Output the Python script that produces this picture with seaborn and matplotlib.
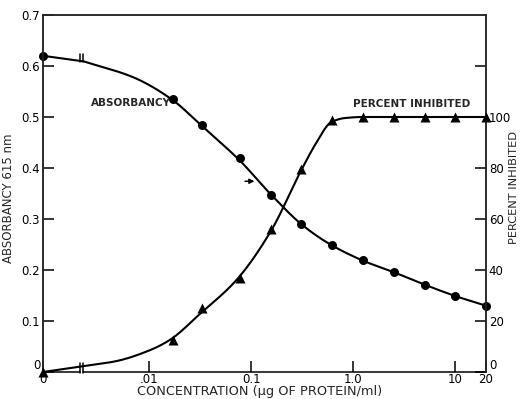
import numpy as np
import pandas as pd
import matplotlib
matplotlib.use("Agg")
import matplotlib.pyplot as plt
import seaborn as sns

# Measured points: protein concentration (ug/ml), absorbancy at 615 nm, percent inhibited
conc = [0, 0.017, 0.033, 0.078, 0.156, 0.31, 0.62, 1.25, 2.5, 5, 10, 20]
absorbancy = [0.62, 0.535, 0.485, 0.42, 0.347, 0.29, 0.25, 0.22, 0.197, 0.17, 0.15, 0.13]
inhibited = [0, 12.5, 25, 37, 56, 79.5, 99, 100, 100, 100, 100, 100]

# Hand-drawn fitted curves (knots)
abs_curve_conc = [0, 0.0023, 0.007, 0.0166, 0.032, 0.079, 0.16, 0.323, 0.611, 1.26, 2.55, 5.05, 10, 20]
abs_curve = [0.62, 0.609, 0.578, 0.535, 0.485, 0.413, 0.346, 0.287, 0.249, 0.218, 0.195, 0.171, 0.149, 0.13]
inh_curve_conc = [0, 0.0023, 0.0047, 0.01, 0.0159, 0.032, 0.0724, 0.156, 0.309, 0.43, 0.611, 0.832, 1.24, 20]
inh_curve = [0, 2.3, 4.2, 8.4, 12.5, 23, 36.2, 55.2, 79, 89.5, 98, 99.6, 100, 100]

# Tick labels
x_ticks = [0, 0.01, 0.1, 1, 10, 20]
x_ticklabels = ["0", ".01", "0.1", "1.0", "10", "20"]
y_ticks = [0, 0.1, 0.2, 0.3, 0.4, 0.5, 0.6, 0.7]
y_ticklabels = ["0", "0.1", "0.2", "0.3", "0.4", "0.5", "0.6", "0.7"]
y2_ticks = [0, 20, 40, 60, 80, 100, 120]
y2_ticklabels = ["0", "20", "40", "60", "80", "100", ""]

# Broken concentration axis: linear stretch from 0 up to XB, log10 above it
U0 = -3.038
UB = -2.646
XB = 10 ** UB


def fwd(x):
    x = np.asarray(x, dtype=float)
    lg = np.log10(np.clip(x, XB, None))
    lin = U0 + (x / XB) * (UB - U0)
    return np.where(x > XB, lg, lin)


def inv(u):
    u = np.asarray(u, dtype=float)
    lin = (u - U0) / (UB - U0) * XB
    return np.where(u > UB, 10 ** np.clip(u, UB, 10), lin)


def pchip(xk, yk, xs):
    """Monotone cubic (Fritsch-Carlson) through the knots."""
    xk = np.asarray(xk, float)
    yk = np.asarray(yk, float)
    h = np.diff(xk)
    d = np.diff(yk) / h
    m = np.zeros_like(yk)
    m[0], m[-1] = d[0], d[-1]
    for i in range(1, len(xk) - 1):
        if d[i - 1] * d[i] > 0:
            w1 = 2 * h[i] + h[i - 1]
            w2 = h[i] + 2 * h[i - 1]
            m[i] = (w1 + w2) / (w1 / d[i - 1] + w2 / d[i])
    idx = np.clip(np.searchsorted(xk, xs) - 1, 0, len(xk) - 2)
    t = (xs - xk[idx]) / h[idx]
    h00 = 2 * t**3 - 3 * t**2 + 1
    h10 = t**3 - 2 * t**2 + t
    h01 = -2 * t**3 + 3 * t**2
    h11 = t**3 - t**2
    return h00 * yk[idx] + h10 * h[idx] * m[idx] + h01 * yk[idx + 1] + h11 * h[idx] * m[idx + 1]


def smooth_curve(cx, cy):
    # straight piece from zero to the break, smooth curve on the log part
    lx = np.log10(np.asarray(cx[1:], float))
    us = np.linspace(lx[0], lx[-1], 400)
    ys = pchip(lx, cy[1:], us)
    return pd.DataFrame({"x": np.concatenate([[cx[0]], 10 ** us]),
                         "y": np.concatenate([[cy[0]], ys])})


sns.set_style("ticks")
plt.rcParams["font.family"] = ["DejaVu Sans"]
plt.rcParams["axes.linewidth"] = 1.1

W, H = 521, 399
fig = plt.figure(figsize=(W / 100, H / 100), dpi=100)
ax = fig.add_axes([43 / W, 1 - 372 / H, 443 / W, 357 / H])
ax.set_xscale("function", functions=(fwd, inv))
ax2 = ax.twinx()

abs_df = pd.DataFrame({"conc": conc, "val": absorbancy})
inh_df = pd.DataFrame({"conc": conc, "val": inhibited})
abs_line = smooth_curve(abs_curve_conc, abs_curve)
inh_line = smooth_curve(inh_curve_conc, inh_curve)

sns.lineplot(data=abs_line, x="x", y="y", ax=ax, sort=False, estimator=None,
             color="black", linewidth=1.5)
sns.scatterplot(data=abs_df, x="conc", y="val", ax=ax, marker="o", s=42,
                color="black", edgecolor="black", linewidth=0, clip_on=False, zorder=5)
sns.lineplot(data=inh_line, x="x", y="y", ax=ax2, sort=False, estimator=None,
             color="black", linewidth=1.5)
sns.scatterplot(data=inh_df, x="conc", y="val", ax=ax2, marker="^", s=52,
                color="black", edgecolor="black", linewidth=0, clip_on=False, zorder=5)

ax.set_xlim(0, 20)
ax.set_ylim(0, 0.7)
ax2.set_ylim(0, 140)

ax.set_xticks(x_ticks)
ax.set_xticklabels(x_ticklabels)
ax.xaxis.set_minor_locator(matplotlib.ticker.NullLocator())
ax.set_yticks(y_ticks)
ax.set_yticklabels(y_ticklabels)
ax2.set_yticks(y2_ticks)
ax2.set_yticklabels(y2_ticklabels)

for a in (ax, ax2):
    for s in a.spines.values():
        s.set_visible(True)
        s.set_linewidth(1.1)
    a.spines["bottom"].set_visible(False)
ax.tick_params(axis="both", direction="in", length=8, width=1.1, labelsize=8.5,
               pad=2, colors="black")
ax2.tick_params(axis="y", direction="in", length=8, width=1.1, labelsize=8.5,
                pad=2, colors="black")
ax.tick_params(axis="x", pad=1)
ax.set_xlabel("")
ax.set_ylabel("")
ax2.set_ylabel("")

# zero labels on both value axes sit just above the baseline
ax.get_yticklabels()[0].set_va("bottom")
ax2.get_yticklabels()[0].set_va("bottom")

# bottom axis with a break near zero
bk1, bk2 = 0.0835, 0.0903
kw = dict(transform=ax.transAxes, color="black", clip_on=False, linewidth=1.1)
ax.plot([0, bk1], [0, 0], **kw)
ax.plot([bk2, 1], [0, 0], **kw)
ax.plot([bk1, bk1], [-0.003, 0.025], **kw)
ax.plot([bk2, bk2], [-0.003, 0.025], **kw)
ax.plot([bk1, bk1], [0.868, 0.891], **kw)
ax.plot([bk2, bk2], [0.868, 0.891], **kw)

# axis titles
fig.text(260 / W, 1 - 392 / H, "CONCENTRATION (\u00b5g OF PROTEIN/ml)", fontsize=9.3,
         ha="center", va="center")
fig.text(9 / W, 1 - 198 / H, "ABSORBANCY 615 nm", fontsize=8.5, rotation=90,
         ha="center", va="center")
fig.text(514 / W, 1 - 187 / H, "PERCENT INHIBITED", fontsize=8.2, rotation=90,
         ha="center", va="center")

ax.text(0.199, 0.753, "ABSORBANCY", transform=ax.transAxes, fontsize=7.5,
        fontweight="bold", ha="center", va="center")
ax.text(0.833, 0.751, "PERCENT INHIBITED", transform=ax.transAxes, fontsize=7.5,
        fontweight="bold", ha="center", va="center")
ax.annotate("", xy=(0.115, 0.374), xytext=(0.082, 0.374),
            arrowprops=dict(arrowstyle="-|>", color="black", lw=1.1,
                            mutation_scale=7))

fig.savefig("out.png", dpi=100)
